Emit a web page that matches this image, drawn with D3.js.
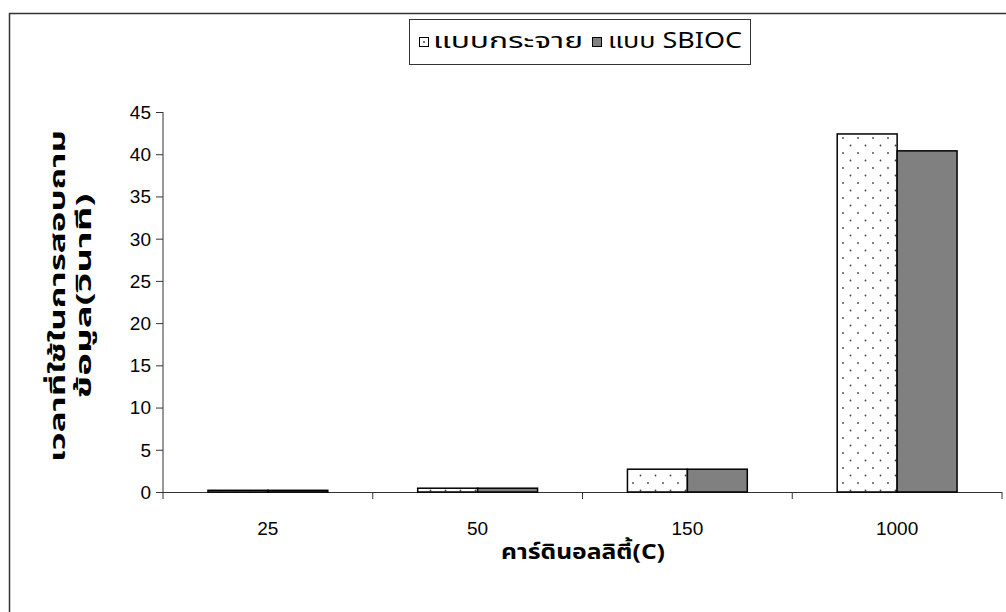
<!DOCTYPE html>
<html><head><meta charset="utf-8">
<script src="https://cdn.jsdelivr.net/npm/d3@7"></script>
<style>body{margin:0;background:#fff}svg{display:block}</style>
</head><body>
<script>
const categories = ["25","50","150","1000"];
const seriesNames = ["แบบกระจาย","แบบ SBIOC"];
const distributed = [0.2, 0.45, 2.7, 42.4];
const sbioc = [0.2, 0.45, 2.7, 40.4];
const yTicks = [0,5,10,15,20,25,30,35,40,45];
const yTitle = ["เวลาที่ใช้ในการสอบถาม","ข้อมูล(วินาที)"];
const xTitle = "คาร์ดินอลลิตี้(C)";

const W=1006,H=612;
const font = "'Liberation Sans', Arial, sans-serif";
const thaiFont = "Tahoma, 'Noto Sans Thai', 'Loma', 'Liberation Sans', sans-serif";
const svg = d3.select("body").append("svg").attr("width",W).attr("height",H);
const defs = svg.append("defs");
const pat = defs.append("pattern").attr("id","dots").attr("patternUnits","userSpaceOnUse")
  .attr("width",15).attr("height",15);
pat.append("rect").attr("width",15).attr("height",15).attr("fill","#fff");
pat.append("circle").attr("cx",3).attr("cy",3).attr("r",0.9).attr("fill","#444");
pat.append("circle").attr("cx",10.5).attr("cy",10.5).attr("r",0.9).attr("fill","#444");

svg.append("rect").attr("x",9.5).attr("y",13.5).attr("width",1010).attr("height",620)
  .attr("fill","#fff").attr("stroke","#333").attr("stroke-width",1.5);

const x = d3.scaleBand().domain(categories).range([163,1002]);
const bw = x.bandwidth();
const barW = bw/3.5;
const x1 = d3.scaleBand().domain(seriesNames).range([barW*0.75, barW*2.75]);
const y = d3.scaleLinear().domain([0,45]).range([492,112]);

const data = categories.map((c,i)=>({c, vals:[distributed[i], sbioc[i]]}));
const fills = ["url(#dots)","#808080"];

// axes
const g = svg.append("g");
g.append("line").attr("x1",163).attr("x2",163).attr("y1",y(45)).attr("y2",y(0)+7).attr("stroke","#333");
g.selectAll(".yt").data(yTicks).join("line").attr("x1",156).attr("x2",163)
  .attr("y1",d=>y(d)+0.5).attr("y2",d=>y(d)+0.5).attr("stroke","#333");
g.selectAll(".yl").data(yTicks).join("text").attr("x",151).attr("y",d=>y(d)).attr("dy","0.36em")
  .attr("text-anchor","end").attr("font-family",font).attr("font-size",19).text(d=>d);

const gb = svg.append("g");
data.forEach(d=>{
  d.vals.forEach((v,j)=>{
    gb.append("rect").attr("x",x(d.c)+x1(seriesNames[j])).attr("y",y(v))
      .attr("width",x1.bandwidth()).attr("height",y(0)-y(v))
      .attr("fill",fills[j]).attr("stroke","#000").attr("stroke-width",1.5);
  });
});

g.append("line").attr("x1",163).attr("x2",1002).attr("y1",y(0)+0.5).attr("y2",y(0)+0.5).attr("stroke","#333");
const bounds = categories.map(c=>x(c)).concat([x.range()[1]]).slice(1);
g.selectAll(".xt").data(bounds).join("line").attr("x1",d=>d).attr("x2",d=>d)
  .attr("y1",y(0)).attr("y2",y(0)+7).attr("stroke","#333");
g.selectAll(".xl").data(categories).join("text").attr("x",d=>x(d)+bw/2).attr("y",535)
  .attr("text-anchor","middle").attr("font-family",font).attr("font-size",19).text(d=>d);

// titles
svg.append("text").attr("x",501).attr("y",559)
  .attr("textLength",164).attr("lengthAdjust","spacingAndGlyphs")
  .attr("font-family",thaiFont).attr("font-size",21).attr("font-weight","bold").text(xTitle);
const tLens = [332, 205];
yTitle.forEach((t,i)=>{
  svg.append("text").attr("transform",`translate(${65+i*26},${296+tLens[i]/2}) rotate(-90)`)
    .attr("textLength",tLens[i]).attr("lengthAdjust","spacingAndGlyphs")
    .attr("font-family",thaiFont).attr("font-size",21)
    .attr("font-weight","bold").text(t);
});

// legend
const lg = svg.append("g");
lg.append("rect").attr("x",409.5).attr("y",19.5).attr("width",341).attr("height",45)
  .attr("fill","#fff").attr("stroke","#333").attr("stroke-width",1);
const lx = [419, 592];
const tx = [433, 608];
const tl = [150, 134];
seriesNames.forEach((s,j)=>{
  lg.append("rect").attr("x",lx[j]+0.5).attr("y",37.5).attr("width",9).attr("height",9)
    .attr("fill", j===0?"#fff":"#808080").attr("stroke","#000").attr("stroke-width",1);
  if(j===0) lg.append("circle").attr("cx",lx[j]+5).attr("cy",42).attr("r",0.9).attr("fill","#333");
  lg.append("text").attr("x",tx[j]).attr("y",48).attr("font-family",thaiFont)
    .attr("textLength",tl[j]).attr("lengthAdjust","spacingAndGlyphs")
    .attr("font-size",21).text(s);
});
</script>
</body></html>
